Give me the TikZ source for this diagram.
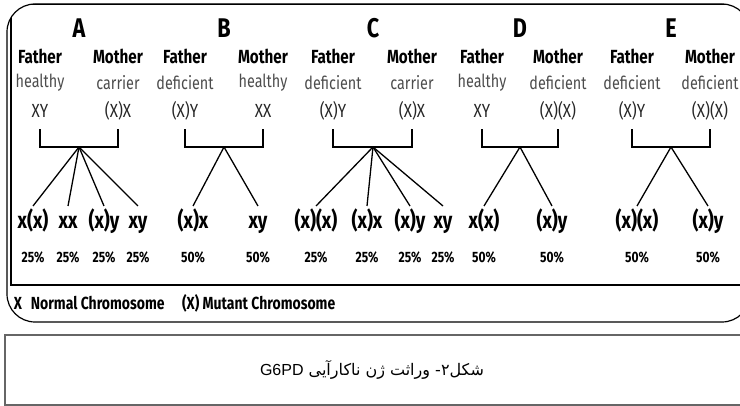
\documentclass[tikz,border=0pt]{standalone}
\usepackage{fontspec}
\newfontfamily\dfont{Fira Sans}[FakeStretch=0.8]
\newfontfamily\arabicfont[Script=Arabic]{DejaVu Sans}
\newfontfamily\capfont{Liberation Sans}
\TeXXeTstate=1

\begin{document}
\begin{tikzpicture}[x=1pt,y=-1pt,line width=1.3pt,
	title/.style={font=\dfont\bfseries\fontsize{27}{27}\selectfont},
	parent/.style={font=\dfont\bfseries\fontsize{19}{19}\selectfont},
	health/.style={font=\dfont\fontsize{18}{18}\selectfont,text=black!70},
	geno/.style={font=\dfont\fontsize{19}{19}\selectfont,text=black!85,text height=10pt,text depth=3pt,inner sep=0pt,outer ysep=9pt},
	child/.style={font=\dfont\bfseries\fontsize{23}{23}\selectfont,text height=12pt,text depth=4pt,inner sep=0pt,outer ysep=11pt},
	perc/.style={font=\dfont\bfseries\fontsize{15}{15}\selectfont}]
	\useasboundingbox (0,0) rectangle (740,406);
	% frames
	\draw [line width=1.2pt, rounded corners=28pt] (7,4) rectangle (750,322);
	\begin{scope}
		\clip [rounded corners=28pt] (7,4) rectangle (750,322);
		\draw (11,4) rectangle (760,285);
	\end{scope}
	\draw [black!60, line width=1.2pt] (5,335) rectangle (760,405);
	% parents
	\foreach \n/\j/\xf/\xm/\hf/\hm/\gf/\gm in {A/79/40/118/healthy/carrier/XY/(X)X, B/224/185/263/deficient/healthy/(X)Y/XX, C/373/333/412/deficient/carrier/(X)Y/(X)X, D/520/482/558/healthy/deficient/XY/(X)(X), E/671/632/710/deficient/deficient/(X)Y/(X)(X)}{
		\node [title] (T\n) at (\j,28) {\n};
		\node [parent] (F\n) at (\xf,56) {Father};
		\node [parent] (M\n) at (\xm,56) {Mother};
		\node [health] (hF\n) at (\xf,83) {\hf};
		\node [health] (hM\n) at (\xm,83) {\hm};
		\node [geno] (gF\n) at (\xf,114) {\gf};
		\node [geno] (gM\n) at (\xm,114) {\gm};
		\coordinate (J\n) at (\j,147);
		\draw (gF\n.south) |- (J\n) -| (gM\n.south);
	}
	% children
	\foreach \kid/\j/\x/\lab/\pc in {a1/A/33/x(x)/25, a2/A/68/xx/25, a3/A/104/(x)y/25, a4/A/138/xy/25, b1/B/193/(x)x/50, b2/B/258/xy/50, c1/C/316/(x)(x)/25, c2/C/367/(x)x/25, c3/C/410/(x)y/25, c4/C/443/xy/25, d1/D/484/x(x)/50, d2/D/552/(x)y/50, e1/E/637/(x)(x)/50, e2/E/708/(x)y/50}{
		\node [child] (\kid) at (\x,225) {\lab};
		\node [perc] (p\kid) at (\x,257) {\pc\%};
		\draw (J\j) -- (\kid.north);
	}
	\node [anchor=west, font=\dfont\bfseries\fontsize{17.5}{17.5}\selectfont] (legend) at (10,303) {X\enspace Normal Chromosome\quad(X) Mutant Chromosome};
	\node (cap) at (372,370) {\arabicfont\fontsize{16}{16}\selectfont\beginR شکل۲- وراثت ژن ناکارآیی \beginL{\capfont G6PD}\endL\endR};
\end{tikzpicture}
\end{document}
